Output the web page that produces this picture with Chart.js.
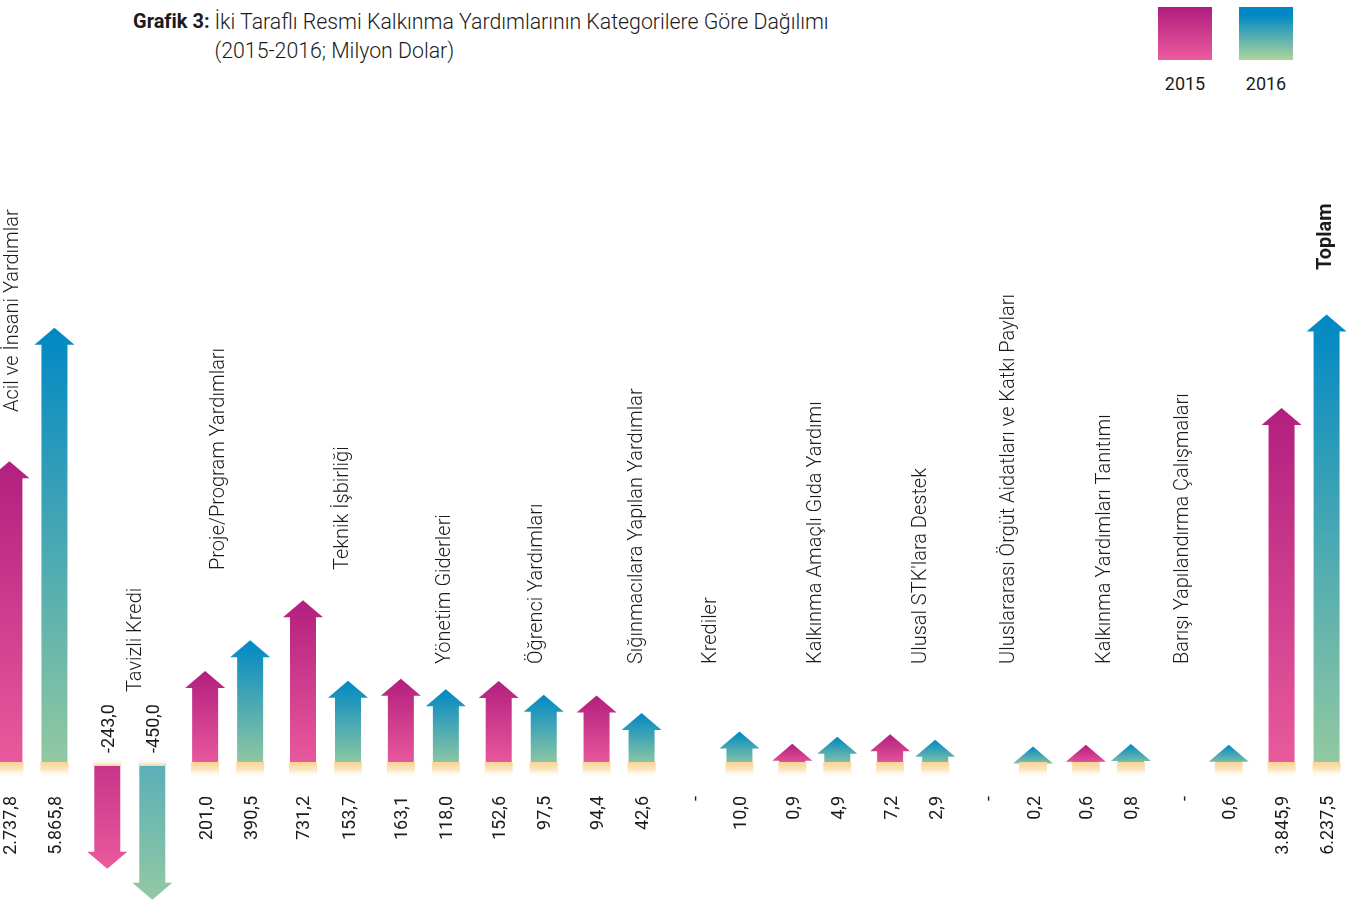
<!DOCTYPE html>
<html lang="tr">
<head>
<meta charset="utf-8">
<title>Grafik 3</title>
<script src="https://cdn.jsdelivr.net/npm/chart.js@4.4.1/dist/chart.umd.min.js"></script>
<style>
    html, body { margin: 0; padding: 0; background: #fff; overflow: hidden; }
    body { width: 1363px; height: 914px; position: relative; font-family: Roboto, 'Noto Sans', sans-serif; color: #1b1b1b; }
    #chart { position: absolute; left: -17.5px; top: 0; }
    .title { position: absolute; left: 133px; top: 7px; font-size: 20px; font-weight: 300; line-height: 29px; white-space: nowrap; }
    .title b { font-weight: 700; vertical-align: top; }
    .title span { display: inline-block; vertical-align: top; font-size: 21.3px; }
    .legend-box { position: absolute; top: 7px; width: 54px; height: 53px; }
    .legend-label { position: absolute; top: 73px; width: 60px; text-align: center; font-size: 18px; font-weight: 400; }
</style>
</head>
<body>
<div class="title"><b>Grafik 3:</b> <span>İki Taraflı Resmi Kalkınma Yardımlarının Kategorilere Göre Dağılımı<br>(2015-2016; Milyon Dolar)</span></div>

<div class="legend-box" style="left:1158px;background:linear-gradient(#b01c7e,#ec5c9e);"></div>
<div class="legend-box" style="left:1239px;background:linear-gradient(#0088c6 15%,#aed69a);"></div>
<div class="legend-label" style="left:1155px;">2015</div>
<div class="legend-label" style="left:1236px;">2016</div>

<canvas id="chart" width="1370" height="914"></canvas>

<script>
const categories = [
    'Acil ve İnsani Yardımlar',
    'Tavizli Kredi',
    'Proje/Program Yardımları',
    'Teknik İşbirliği',
    'Yönetim Giderleri',
    'Öğrenci Yardımları',
    'Sığınmacılara Yapılan Yardımlar',
    'Krediler',
    'Kalkınma Amaçlı Gıda Yardımı',
    "Ulusal STK'lara Destek",
    'Uluslararası Örgüt Aidatları ve Katkı Payları',
    'Kalkınma Yardımları Tanıtımı',
    'Barışı Yapılandırma Çalışmaları',
    'Toplam'
];

// Milyon Dolar, null = "-"
const values2015 = [2737.8, -243.0, 201.0, 731.2, 163.1, 152.6, 94.4, null, 0.9, 7.2, null, 0.6, null, 3845.9];
const values2016 = [5865.8, -450.0, 390.5, 153.7, 118.0, 97.5, 42.6, 10.0, 4.9, 2.9, 0.2, 0.8, 0.6, 6237.5];

// where each category name sits (offset from category centre, bottom of the rotated text)
const labelDx = [-19, 6, -9, 17, 22, 16, 18, -6, 1, 8, -2, -3, -23, 22];
const labelBottom = [412, 692, 570, 570, 664, 664, 664, 664, 664, 664, 664, 664, 664, 270];

const BASELINE = 766;     // y of the zero line
const PX_PER_UNIT = 5.5;  // pixels per sqrt(million $)
const HEAD_H = 17;
const HEAD_W = 40;
const BODY_W = 26;

// the graphic is not linear: long totals are compressed, so plot on a square-root scale
const sqrtScale = v => v === null ? null : Math.sign(v) * Math.sqrt(Math.abs(v));

function formatTr(v) {
    if (v === null) return '-';
    const neg = v < 0;
    const parts = Math.abs(v).toFixed(1).split('.');
    const intPart = parts[0].replace(/\B(?=(\d{3})+(?!\d))/g, '.');
    return (neg ? '-' : '') + intPart + ',' + parts[1];
}

function drawArrow(ctx, x, y, base, colors, neg) {
    const top = neg ? base : y - HEAD_H;
    const bottom = neg ? y + HEAD_H : base;
    const grad = ctx.createLinearGradient(0, top, 0, bottom);
    // downward arrows start from the middle of the colour ramp
    grad.addColorStop(0, neg ? colors[2] : colors[0]);
    grad.addColorStop(1, colors[1]);

    const dir = neg ? 1 : -1;
    ctx.beginPath();
    ctx.moveTo(x - BODY_W / 2, base);
    ctx.lineTo(x - BODY_W / 2, y);
    ctx.lineTo(x - HEAD_W / 2, y);
    ctx.lineTo(x, y + dir * HEAD_H);
    ctx.lineTo(x + HEAD_W / 2, y);
    ctx.lineTo(x + BODY_W / 2, y);
    ctx.lineTo(x + BODY_W / 2, base);
    ctx.closePath();
    ctx.fillStyle = grad;
    ctx.fill();

    // pale strip at the foot of each arrow
    if (!neg) {
        const g2 = ctx.createLinearGradient(0, base - 4, 0, base + 12);
        g2.addColorStop(0, 'rgba(251,214,150,1)');
        g2.addColorStop(0.45, 'rgba(252,226,184,0.95)');
        g2.addColorStop(1, 'rgba(255,255,255,0)');
        ctx.fillStyle = g2;
        ctx.fillRect(x - BODY_W / 2 - 1, base - 4, BODY_W + 2, 16);
    } else {
        const g2 = ctx.createLinearGradient(0, base - 8, 0, base);
        g2.addColorStop(0, 'rgba(255,255,255,0)');
        g2.addColorStop(1, 'rgba(240,214,160,1)');
        ctx.fillStyle = g2;
        ctx.fillRect(x - BODY_W / 2 - 1, base - 8, BODY_W + 2, 8);
    }
}

function rotatedText(ctx, text, x, y, align, font, color) {
    ctx.save();
    ctx.translate(x, y);
    ctx.rotate(-Math.PI / 2);
    ctx.font = font;
    ctx.fillStyle = color;
    ctx.textAlign = align;
    ctx.textBaseline = 'middle';
    ctx.fillText(text, 0, 0);
    ctx.restore();
}

const arrowPlugin = {
    id: 'arrows',
    afterDatasetsDraw(chart) {
        const ctx = chart.ctx;
        chart.data.datasets.forEach((ds, di) => {
            const meta = chart.getDatasetMeta(di);
            meta.data.forEach((bar, i) => {
                const v = ds.raw[i];
                if (v === null) return;
                const p = bar.getProps(['x', 'y', 'base'], true);
                drawArrow(ctx, p.x, p.y, p.base, ds.arrowColors, v < 0);
            });
        });
    },
    afterDraw(chart) {
        const ctx = chart.ctx;
        const xs = chart.scales.x;

        // value labels
        chart.data.datasets.forEach((ds, di) => {
            const meta = chart.getDatasetMeta(di);
            meta.data.forEach((bar, i) => {
                const v = ds.raw[i];
                const x = bar.x + 2;
                if (v !== null && v < 0) {
                    rotatedText(ctx, formatTr(v), x, BASELINE - 13, 'left', '400 18px Roboto', '#1b1b1b');
                } else {
                    rotatedText(ctx, formatTr(v), x, 796, 'right', '400 18px Roboto', '#1b1b1b');
                }
            });
        });

        // category names
        categories.forEach((name, i) => {
            const cx = xs.getPixelForValue(i) + labelDx[i];
            const last = i === categories.length - 1;
            rotatedText(ctx, name, cx, labelBottom[i], 'left',
                last ? '700 20px Roboto' : '300 20px Roboto', '#1b1b1b');
        });
    }
};

new Chart(document.getElementById('chart'), {
    type: 'bar',
    data: {
        labels: categories,
        datasets: [
            {
                label: '2015',
                raw: values2015,
                data: values2015.map(sqrtScale),
                backgroundColor: 'rgba(0,0,0,0)',
                arrowColors: ['#b21f7e', '#ea5a9d', '#c7358a']
            },
            {
                label: '2016',
                raw: values2016,
                data: values2016.map(sqrtScale),
                backgroundColor: 'rgba(0,0,0,0)',
                arrowColors: ['#0088c4', '#93c9a1', '#5aafb9']
            }
        ]
    },
    options: {
        responsive: false,
        animation: false,
        events: [],
        layout: { padding: 0 },
        categoryPercentage: 0.92,
        barPercentage: 0.58,
        plugins: {
            legend: { display: false },
            tooltip: { enabled: false }
        },
        scales: {
            x: { display: false },
            y: {
                display: false,
                min: -(914 - BASELINE) / PX_PER_UNIT,
                max: BASELINE / PX_PER_UNIT
            }
        }
    },
    plugins: [arrowPlugin]
});
</script>
</body>
</html>
